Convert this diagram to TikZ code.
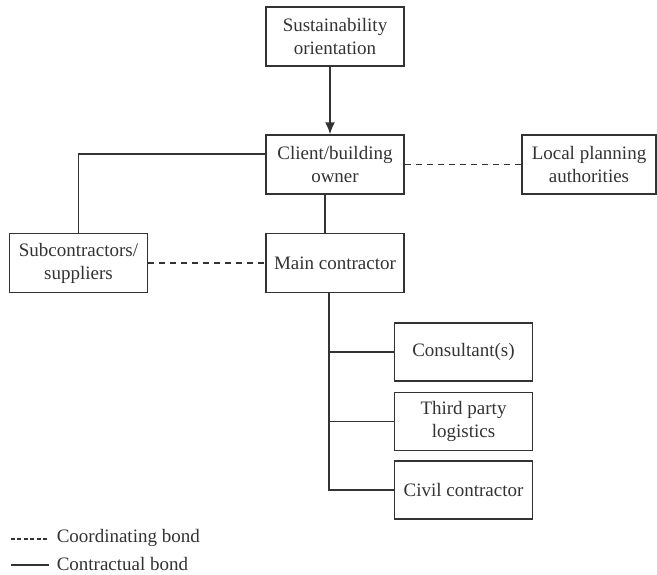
\documentclass[tikz,border=0pt]{standalone}
\usepackage{fontspec}
\setmainfont{Liberation Serif}
\usetikzlibrary{arrows.meta}

\begin{document}
\begin{tikzpicture}[x=0.5pt, y=-0.5pt, line width=0.75pt, color={black!80},
	font=\fontsize{9.5}{11.5}\selectfont,
	block/.style={draw, rectangle, minimum height=29.5pt, minimum width=69pt, 
	text centered, align=center, inner sep=1pt},
	coordbond/.style={dash pattern=on 3pt off 2.5pt},
	contrbond/.style={}]
		
		\useasboundingbox (0,0) rectangle (657,574);
		
		%Nodes
		\node (orientation) at (335,36.5) [block]{Sustainability\\orientation};
		\node (client) at (335,164.5) [block]{Client/building\\owner};
		\node (planning) at (589,164.5) [block, minimum width=67pt]{Local planning\\authorities};
		
		%Contractor level
		\node (subcontractors) at (78.5,263) [block]{Subcontractors/\\suppliers};
		\node (mainContractor) at (335,263) [block]{Main contractor};
		
		%Blocks under the main contractor
		\node (consultants) at (463.5,352) [block, minimum height=29pt]{Consultant(s)};
		\node (logistics) at (463.5,421.5) [block, minimum height=29pt]{Third party\\logistics};
		\node (civil) at (463.5,490) [block, minimum height=29pt]{Civil contractor};
		
		%Links
		\draw[-{Latex[length=6pt,width=5pt]}] ([xshift=-2.5pt]orientation.south) -- ([xshift=-2.5pt]client.north);
		\draw[contrbond] ([yshift=5.25pt]client.west) -| (subcontractors.north);
		\draw[contrbond] ([xshift=-5pt]client.south) -- ([xshift=-5pt]mainContractor.north);
		\draw[coordbond] (client.east) -- (planning.west);
		\draw[coordbond] (subcontractors.east) -- (mainContractor.west);
		\draw[contrbond] ([xshift=-3pt]mainContractor.south) coordinate (trunk) 
		-- (trunk |- civil.west) -- (civil.west);
		\draw[contrbond] (trunk |- consultants.west) -- (consultants.west);
		\draw[contrbond] (trunk |- logistics.west) -- (logistics.west);
		
		%Legend
		\node (coordLegend) at (56,538) [anchor=west, inner sep=0pt]{Coordinating bond};
		\node (contrLegend) at (56,564) [anchor=west, inner sep=0pt]{Contractual bond};
		\coordinate (coordStart) at (11,539);
		\coordinate (contrStart) at (11,565);
		\draw[dash pattern=on 2pt off 1.2pt] (coordStart) -- ([xshift=-3.5pt]coordLegend.west |- coordStart);
		\draw[contrbond] (contrStart) -- ([xshift=-3.5pt]contrLegend.west |- contrStart);
		
		\end{tikzpicture}
\end{document}
